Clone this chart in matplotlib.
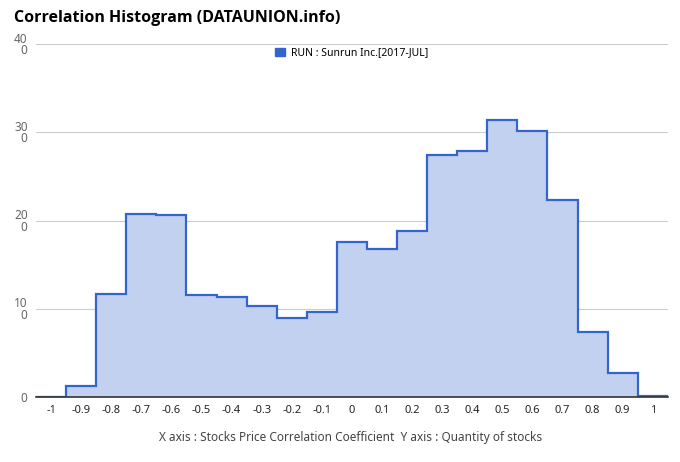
import matplotlib
matplotlib.use("Agg")
import matplotlib.pyplot as plt
import numpy as np
from matplotlib.patches import Patch

plt.rcParams['font.family'] = ['Noto Sans', 'DejaVu Sans']

# bin centres and counts
centers = [-1, -0.9, -0.8, -0.7, -0.6, -0.5, -0.4, -0.3, -0.2, -0.1, 0,
           0.1, 0.2, 0.3, 0.4, 0.5, 0.6, 0.7, 0.8, 0.9, 1]
counts = [0, 12, 117, 207, 206, 116, 113, 103, 90, 96, 176,
          168, 188, 274, 279, 314, 301, 223, 74, 27, 1]
x_ticks = [-1, -0.9, -0.8, -0.7, -0.6, -0.5, -0.4, -0.3, -0.2, -0.1, 0,
           0.1, 0.2, 0.3, 0.4, 0.5, 0.6, 0.7, 0.8, 0.9, 1]
y_ticks = [0, 100, 200, 300, 400]

edges = np.append(np.array(centers) - 0.05, centers[-1] + 0.05)

fig = plt.figure(figsize=(6.8, 4.62), dpi=100)
ax = fig.add_axes([0.053, 0.1407, 0.929, 0.764])

ax.stairs(counts, edges, fill=True, color='#c3d1f0', baseline=0)
ax.stairs(counts, edges, color='#3366cc', linewidth=1.6, baseline=None)

ax.set_xlim(-1.05, 1.05)
ax.set_ylim(0, 400)
ax.set_yticks(y_ticks)
ax.set_yticklabels(['0' if v == 0 else str(v)[:-1] + '\n0' for v in y_ticks],
                   color='#666666', fontsize=8.5, linespacing=0.85)
ax.set_xticks(x_ticks)
ax.set_xticklabels([('%g' % v) for v in x_ticks], fontsize=8, color='#222222')
ax.tick_params(axis='both', length=0)
ax.tick_params(axis='x', pad=6)
ax.tick_params(axis='y', pad=6)
ax.grid(axis='y', color='#cccccc', linewidth=0.8)
ax.set_axisbelow(True)
for s in ['top', 'right', 'left']:
    ax.spines[s].set_visible(False)
ax.spines['bottom'].set_color('#333333')
ax.spines['bottom'].set_linewidth(1.2)

# legend with a filled square
ax.legend(handles=[Patch(color='#3366cc', label='RUN : Sunrun Inc.[2017-JUL]')],
          loc='upper center', bbox_to_anchor=(0.5, 1.005), frameon=False,
          fontsize=7.5, handlelength=0.9, handleheight=0.9, handletextpad=0.6,
          borderaxespad=0.1)

fig.text(0.02, 0.96, 'Correlation Histogram (DATAUNION.info)', fontsize=11.5,
         fontweight='bold', family=['Open Sans', 'DejaVu Sans'],
         va='center', ha='left')
fig.text(0.515, 0.053, 'X axis : Stocks Price Correlation Coefficient  Y axis : Quantity of stocks',
         fontsize=8.5, color='#444444', ha='center', va='center')

fig.savefig('out.png', dpi=100)
